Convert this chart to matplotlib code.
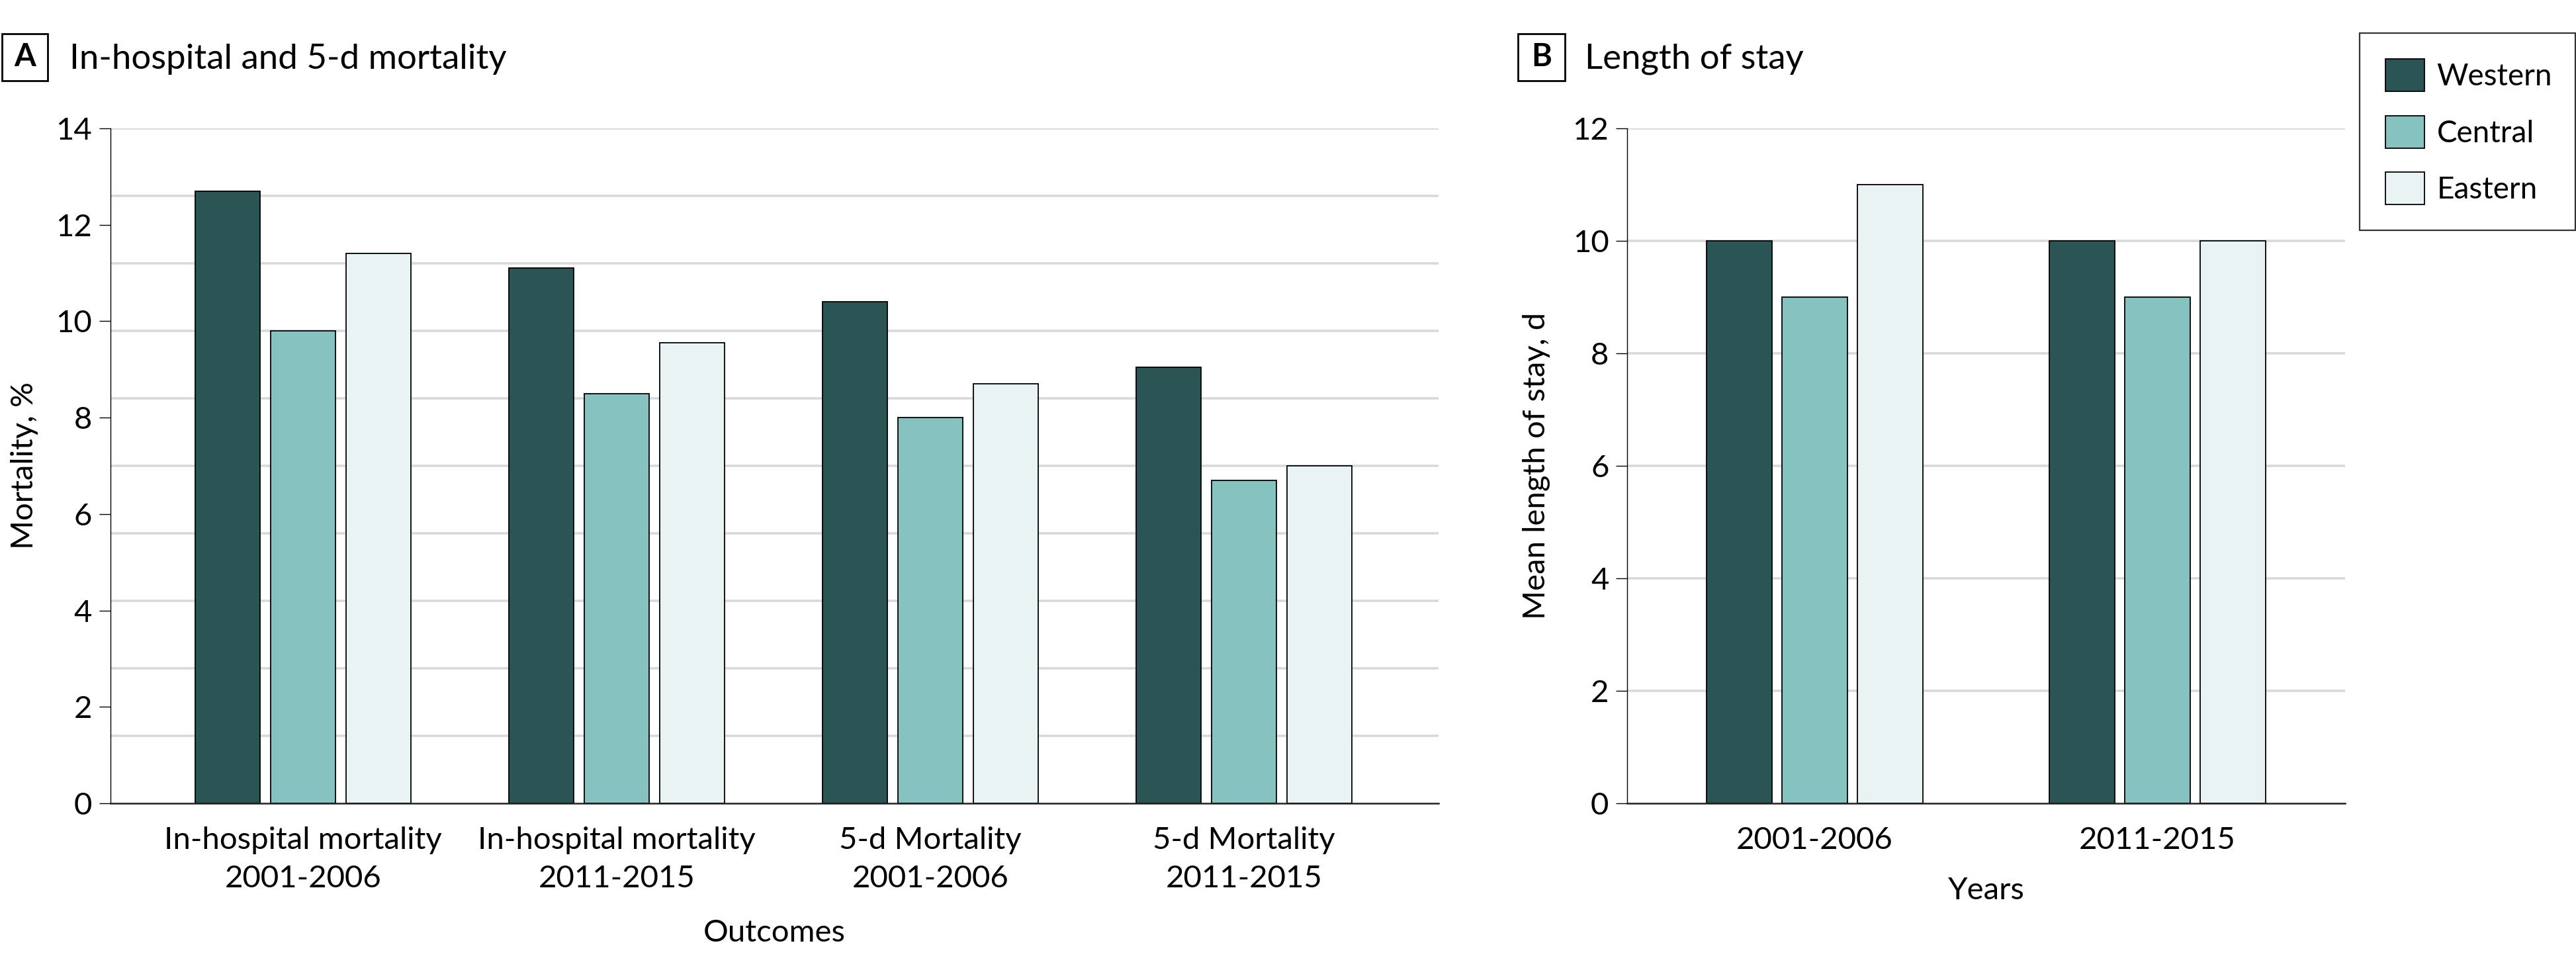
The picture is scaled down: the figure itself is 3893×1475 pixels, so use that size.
import matplotlib
matplotlib.use('Agg')
import matplotlib.pyplot as plt
from matplotlib.patches import Patch, Rectangle
from matplotlib import font_manager
import numpy as np

# ---- data ----
regions = ['Western', 'Central', 'Eastern']
outcomes = ['In-hospital mortality\n2001-2006', 'In-hospital mortality\n2011-2015',
            '5-d Mortality\n2001-2006', '5-d Mortality\n2011-2015']
mort_western = [12.7, 11.1, 10.4, 9.05]
mort_central = [9.8, 8.5, 8.0, 6.7]
mort_eastern = [11.4, 9.55, 8.7, 7.0]
years = ['2001-2006', '2011-2015']
los_western = [10, 10]
los_central = [9, 9]
los_eastern = [11, 10]
mort_ticks = [0, 2, 4, 6, 8, 10, 12, 14]
los_ticks = [0, 2, 4, 6, 8, 10, 12]

colors = ['#2b5454', '#86c2c0', '#eaf3f4']

names = {f.name for f in font_manager.fontManager.ttflist}
fam = [f for f in ['Lato', 'Roboto', 'DejaVu Sans'] if f in names]
plt.rcParams['font.family'] = fam + ['DejaVu Sans']

FS = 34
fig = plt.figure(figsize=(38.93, 14.75), dpi=100)

def style(ax, ticks, ylim):
    ax.set_ylim(*ylim)
    ax.set_yticks(ticks)
    for s in ['top', 'right']:
        ax.spines[s].set_visible(False)
    ax.spines['left'].set_linewidth(1.0)
    ax.spines['bottom'].set_linewidth(1.8)
    ax.spines['bottom'].set_color('#222222')
    ax.spines['bottom'].set_zorder(5)
    ax.tick_params(axis='y', length=12, width=1.0, labelsize=FS, pad=8)
    ax.tick_params(axis='x', length=0, labelsize=FS, pad=25)
    ax.set_axisbelow(True)

# Panel A
axA = fig.add_axes([0.0429, 0.177, 0.5155, 0.6915])
x = np.arange(len(outcomes))
w = 0.207
off = 0.24
for i, (vals, c) in enumerate(zip([mort_western, mort_central, mort_eastern], colors)):
    axA.bar(x + (i - 1) * off, vals, width=w, color=c, edgecolor='black', linewidth=1.3, zorder=3)
style(axA, mort_ticks, (0, 14))
for g in np.linspace(0, 14, 11)[1:]:
    axA.axhline(g, color='#d9d9d9', linewidth=2.6, zorder=1)
axA.set_xlim(-0.614, 3.62)
axA.set_xticks(x)
axA.set_xticklabels(outcomes, linespacing=1.47)
axA.set_ylabel('Mortality, %', fontsize=FS, labelpad=19)
axA.set_xlabel('Outcomes', fontsize=FS, labelpad=29)

# Panel B
axB = fig.add_axes([0.6317, 0.177, 0.2786, 0.6915])
xb = np.arange(len(years))
wb = 0.191
offb = 0.22
for i, (vals, c) in enumerate(zip([los_western, los_central, los_eastern], colors)):
    axB.bar(xb + (i - 1) * offb, vals, width=wb, color=c, edgecolor='black', linewidth=1.3, zorder=3)
style(axB, los_ticks, (0, 12))
for g in los_ticks[1:]:
    axB.axhline(g, color='#d9d9d9', linewidth=2.6, zorder=1)
axB.set_xlim(-0.547, 1.547)
axB.set_xticks(xb)
axB.set_xticklabels(years)
axB.set_ylabel('Mean length of stay, d', fontsize=FS, labelpad=24)
axB.set_xlabel('Years', fontsize=FS, labelpad=25)

# Panel labels (boxed letters)
for (x0, x1), letter, tx, title in [((0.00077, 0.0185), 'A', 0.027, 'In-hospital and 5-d mortality'),
                                     ((0.5893, 0.6075), 'B', 0.6152, 'Length of stay')]:
    fig.add_artist(Rectangle((x0, 0.9173), x1 - x0, 0.9654 - 0.9173, transform=fig.transFigure,
                             facecolor='white', edgecolor='black', linewidth=2))
    fig.text((x0 + x1) / 2, 0.9414, letter, fontsize=FS, fontweight='bold', ha='center', va='center')
    fig.text(tx, 0.9395, title, fontsize=38, ha='left', va='center')

# Legend
handles = [Patch(facecolor=c, edgecolor='black', linewidth=1.3, label=r) for r, c in zip(regions, colors)]
leg = fig.legend(handles=handles, loc='upper left', bbox_to_anchor=(0.916, 0.76, 0.0838, 0.2061),
                 mode='expand', bbox_transform=fig.transFigure, fontsize=33, frameon=True,
                 fancybox=False, handlelength=1.29, handleheight=1.27, handletextpad=0.4,
                 labelspacing=0.8, borderpad=0.85, borderaxespad=0)
leg.get_frame().set_edgecolor('black')
leg.get_frame().set_linewidth(1.6)

fig.savefig('out.png', dpi=100)
